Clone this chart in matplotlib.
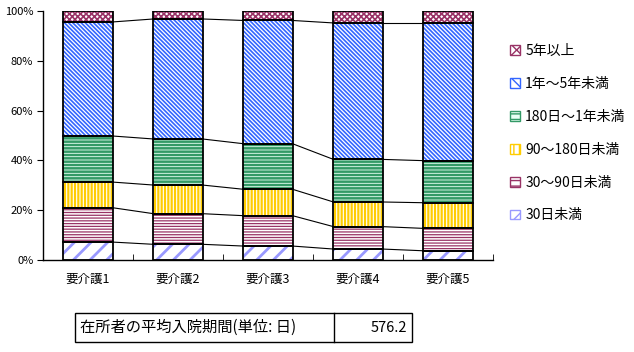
import matplotlib
matplotlib.use('Agg')
import matplotlib.pyplot as plt
import numpy as np
from matplotlib.patches import Patch, Rectangle

plt.rcParams['font.family'] = ['Noto Sans CJK JP', 'DejaVu Sans']

# data (percent of residents per care level)
categories = ['要介護1', '要介護2', '要介護3', '要介護4', '要介護5']
series_names = ['30日未満', '30～90日未満', '90～180日未満', '180日～1年未満', '1年～5年未満', '5年以上']
under_30d = [7.2, 6.3, 5.6, 4.4, 3.7]
d30_90 = [13.8, 12.3, 12.2, 9.0, 9.0]
d90_180 = [10.3, 11.5, 10.6, 9.9, 10.3]
d180_1y = [18.5, 18.5, 18.3, 17.1, 16.9]
y1_5 = [45.8, 48.2, 49.5, 54.8, 55.3]
over_5y = [4.4, 3.2, 3.8, 4.8, 4.8]
table_label = '在所者の平均入院期間(単位: 日)'
table_value = 576.2

# look of each series: face, hatch colour, hatch, hatch width
styles = [
    ('white', '#9999FF', '//', 2.0),
    ('white', '#993366', '------', 0.9),
    ('white', '#FFCC00', '|||||', 1.6),
    ('#E8FFF4', '#339966', '-----', 1.8),
    ('white', '#3366FF', '\\' * 8, 1.2),
    ('white', '#993366', 'xxxxxx', 1.2),
]

values = np.array([under_30d, d30_90, d90_180, d180_1y, y1_5, over_5y])
x = np.arange(len(categories))
width = 0.545

fig = plt.figure(figsize=(6.34, 3.52), dpi=100)
ax = fig.add_axes([43/634, 92/352, 450/634, 249/352])

bottom = np.zeros(len(categories))
for vals, (face, hc, hatch, hlw) in zip(values, styles):
    with plt.rc_context({'hatch.linewidth': hlw}):
        ax.bar(x, vals, width, bottom=bottom, color=face, edgecolor=hc,
               hatch=hatch, linewidth=0, zorder=2)
    ax.bar(x, vals, width, bottom=bottom, fill=False, edgecolor='black',
           linewidth=1.3, zorder=3)
    bottom = bottom + vals
    # connecting lines between bars
    if bottom.max() < 99.9:
        for i in range(len(x) - 1):
            ax.plot([x[i] + width/2, x[i+1] - width/2], [bottom[i], bottom[i+1]],
                    color='black', linewidth=0.8, zorder=1)

ax.set_xlim(-0.5, len(categories) - 0.5)
ax.set_ylim(0, 100)
ax.set_yticks(np.arange(0, 101, 20))
ax.set_yticklabels([f'{v}%' for v in range(0, 101, 20)], fontsize=8)
ax.set_xticks(x)
ax.set_xticklabels(categories, fontsize=9)
ax.set_xticks(np.arange(-0.5, len(categories)), minor=True)
ax.tick_params(axis='x', which='major', length=0, pad=9)
ax.tick_params(axis='x', which='minor', length=4, direction='in')
ax.tick_params(axis='y', length=4, direction='out', pad=3)
for s in ['top', 'right']:
    ax.spines[s].set_visible(False)
ax.spines['left'].set_linewidth(1.0)
ax.spines['bottom'].set_linewidth(1.0)

handles = []
for name, (face, hc, hatch, hlw) in zip(series_names, styles):
    handles.append(Patch(facecolor=face, edgecolor=hc, hatch=hatch[:3], label=name))
handles = handles[::-1]
fig.legend(handles=handles, loc='upper left', bbox_to_anchor=(503/634, 1 - 37/352),
           frameon=False, fontsize=10, handlelength=0.7, handleheight=0.7,
           handletextpad=0.4, labelspacing=1.36, borderpad=0)

# summary table under the chart
fig.patches.append(Rectangle((75/634, 10/352), (412-75)/634, 29/352,
                             transform=fig.transFigure, fill=False,
                             edgecolor='black', linewidth=1.0))
fig.lines.append(plt.Line2D([334/634, 334/634], [10/352, 39/352],
                            transform=fig.transFigure, color='black', linewidth=1.0))
fig.text(80/634, 24.5/352, table_label, fontsize=11, va='center', ha='left')
fig.text(407/634, 24.5/352, f'{table_value}', fontsize=10.5, va='center', ha='right')

fig.savefig('out.png', dpi=100)
